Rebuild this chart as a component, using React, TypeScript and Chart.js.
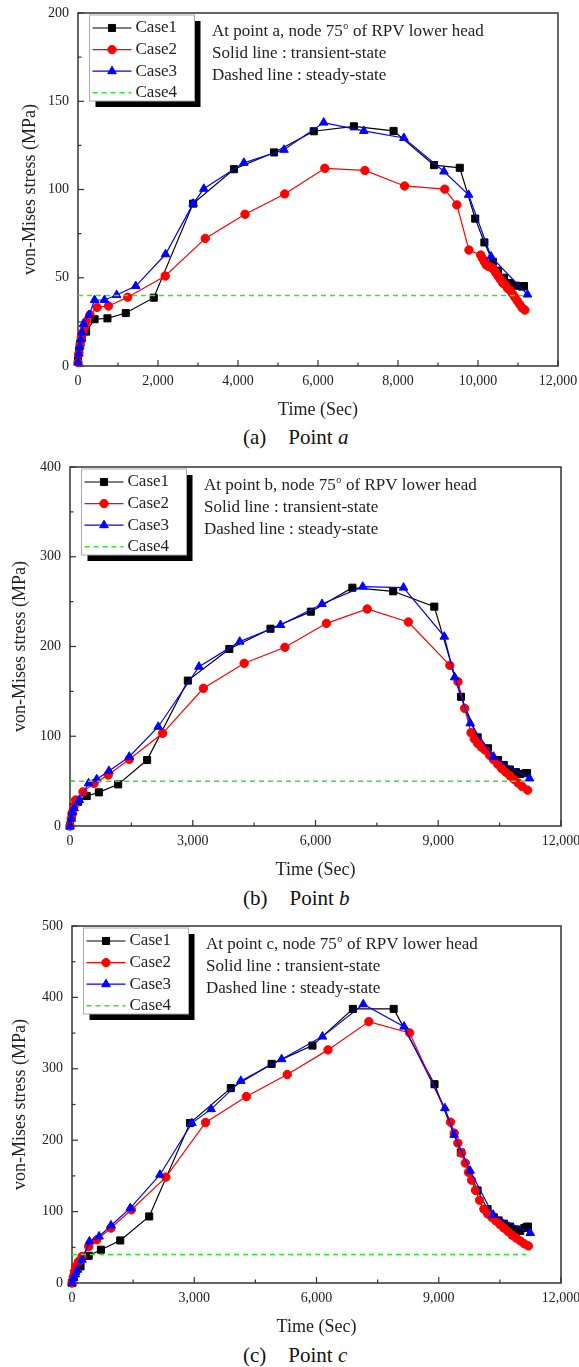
import React, { useEffect, useRef } from "react";
import { Chart, registerables } from "chart.js";
import { drawPoint } from "chart.js/helpers";

Chart.register(...registerables);

const FONT = '"Liberation Serif", "Times New Roman", serif';

// ---------- Data: Point a ----------
const timeA1 = [0, 30, 60, 100, 202, 414, 736, 1195, 1894, 2878, 3899, 4901, 5894, 6896, 7889, 8901, 9544, 9930, 10160, 10372, 10500, 10650, 10800, 10950, 11100, 11150];
const stressA1 = [3, 9, 13, 16, 19.5, 26.5, 27, 30, 38.7, 92, 111.5, 121, 133, 135.8, 133.2, 113.8, 112.3, 83.5, 70, 59, 54, 50, 47, 45.5, 45, 45.3];
const timeA2 = [0, 20, 50, 80, 120, 160, 202, 300, 478, 763, 1241, 2179, 3181, 4175, 5168, 6170, 7172, 8165, 9168, 9471, 9774, 10069, 10110, 10160, 10206, 10260, 10320, 10380, 10440, 10500, 10560, 10620, 10680, 10740, 10800, 10860, 10920, 10980, 11040, 11100, 11172];
const stressA2 = [2, 7, 12, 16, 19, 22, 25, 29, 33.2, 34, 39, 51, 72.3, 86, 97.5, 112, 110.8, 102, 100.2, 91.3, 65.7, 62.9, 61, 59, 57.2, 56.5, 56, 55, 53, 51, 49, 47, 46, 44, 43, 41, 39, 37, 35, 33, 31.7];
const timeA3 = [0, 20, 45, 70, 100, 138, 276, 414, 662, 966, 1444, 2188, 2878, 3145, 4147, 5149, 6142, 7145, 8147, 9149, 9765, 10326, 11236];
const stressA3 = [2, 7, 11, 15, 19, 23.8, 28.9, 37.4, 37.4, 40.2, 45.3, 63.3, 92, 100.4, 115.1, 122.5, 137.9, 133.2, 129.2, 110.2, 97, 62, 40.5];
const timeA4 = [0, 11150];
const stressA4 = [40, 40];

// ---------- Data: Point b ----------
const timeB1 = [0, 40, 91, 200, 408, 706, 1177, 1884, 2880, 3894, 4900, 5887, 6901, 7898, 8903, 9555, 9963, 10216, 10461, 10600, 10750, 10900, 11000, 11140, 11170];
const stressB1 = [0, 12, 21.5, 27, 33.4, 37.5, 46.4, 73.5, 162, 197.2, 219.8, 238.8, 265.5, 261.5, 244.4, 144, 98.8, 86.6, 73.5, 68, 63, 60, 58, 59, 59];
const timeB2 = [0, 30, 60, 100, 136, 317, 589, 933, 1449, 2264, 3260, 4257, 5253, 6267, 7263, 8269, 9283, 9482, 9645, 9800, 9880, 9963, 10050, 10144, 10250, 10350, 10450, 10550, 10650, 10750, 10850, 10950, 11050, 11185];
const stressB2 = [0, 8, 15, 22, 29, 38, 47.5, 56.8, 74.3, 103.3, 153.4, 181.3, 199.1, 225.8, 241.8, 227.3, 179, 160.8, 131.1, 104, 97, 92, 88, 84.7, 79, 74, 69, 64, 60, 56, 52, 48, 44, 40];
const timeB3 = [0, 30, 60, 100, 226, 453, 652, 951, 1449, 2156, 3152, 4148, 5144, 6159, 7155, 8151, 9148, 9401, 9782, 10352, 11231];
const stressB3 = [0, 8, 15, 20, 29, 47.5, 52, 61.3, 77.2, 110.6, 177.5, 205.4, 224, 247.4, 266.7, 265.6, 211, 165.7, 114.4, 77.2, 53];
const timeB4 = [0, 11150];
const stressB4 = [50, 50];

// ---------- Data: Point c ----------
const timeC1 = [0, 40, 91, 209, 410, 710, 1184, 1894, 2895, 3897, 4899, 5900, 6893, 7894, 8896, 9542, 9952, 10198, 10350, 10470, 10600, 10750, 10900, 11000, 11100, 11154, 11190];
const stressC1 = [0, 8, 16, 23.3, 38.2, 46.6, 59.6, 93.2, 224, 272.9, 306.9, 332.5, 383.9, 383.9, 278.4, 182.8, 129.6, 103.5, 92, 87.6, 83, 79, 75, 73, 77, 78.5, 79];
const timeC2 = [0, 30, 60, 91, 160, 246, 410, 610, 956, 1457, 2304, 3278, 4279, 5281, 6282, 7284, 8286, 9287, 9380, 9469, 9560, 9651, 9730, 9806, 9900, 10000, 10107, 10200, 10300, 10400, 10500, 10600, 10700, 10800, 10900, 11000, 11100, 11199];
const stressC2 = [0, 8, 16, 23.3, 30, 37.2, 51.2, 60.6, 77, 102.6, 148.3, 224.8, 261.1, 292, 326.5, 366.1, 350.3, 225.3, 210, 196, 182, 168, 155, 144, 130, 116, 103.5, 97, 92, 87, 82, 77, 72, 67, 63, 59, 55, 52];
const timeC3 = [0, 40, 80, 137, 246, 428, 665, 956, 1430, 2158, 2941, 3414, 4143, 5144, 6146, 7148, 8149, 9151, 9378, 9770, 10334, 11245];
const stressC3 = [0, 7, 12, 18.6, 32.6, 58.2, 65.2, 80.6, 104.9, 151.6, 224, 243.5, 283.1, 313.5, 345.1, 390.4, 359.1, 244.9, 207.5, 157.2, 95.6, 70];
const timeC4 = [0, 11150];
const stressC4 = [40, 40];

// ---------- Labels ----------
const seriesLabels = ["Case1", "Case2", "Case3", "Case4"];
const seriesColors = ["#000000", "#ff0000", "#0000ff", "#2ee82e"];
const seriesMarkers: (string | false)[] = ["rect", "circle", "triangle", false];
const seriesRadius = [5, 4.2, 5, 0];
const annotationLines = ["Solid line : transient-state", "Dashed line : steady-state"];
const xTitle = "Time (Sec)";
const yTitle = "von-Mises stress (MPa)";

type Panel = {
  letter: string;
  times: number[][];
  stresses: number[][];
  top: number;
  height: number;
  padRight: number;
  padTop: number;
  yWidth: number;
  xHeight: number;
  xStep: number;
  xMinor: number;
  yMax: number;
  yStep: number;
  yMinor: number;
  yTitleX: number;
  captionY: number;
};

const panels: Panel[] = [
  { letter: "a", times: [timeA1, timeA2, timeA3, timeA4], stresses: [stressA1, stressA2, stressA3, stressA4],
    top: 0, height: 425, padRight: 21, padTop: 13, yWidth: 78, xHeight: 59, xStep: 2000, xMinor: 1000,
    yMax: 200, yStep: 50, yMinor: 25, yTitleX: 30, captionY: 437 },
  { letter: "b", times: [timeB1, timeB2, timeB3, timeB4], stresses: [stressB1, stressB2, stressB3, stressB4],
    top: 450, height: 435, padRight: 18, padTop: 17, yWidth: 70, xHeight: 59, xStep: 3000, xMinor: 1500,
    yMax: 400, yStep: 100, yMinor: 50, yTitleX: 20, captionY: 898 },
  { letter: "c", times: [timeC1, timeC2, timeC3, timeC4], stresses: [stressC1, stressC2, stressC3, stressC4],
    top: 905, height: 437, padRight: 18, padTop: 21, yWidth: 72, xHeight: 59, xStep: 3000, xMinor: 1500,
    yMax: 500, yStep: 100, yMinor: 50, yTitleX: 20, captionY: 1355 },
];

const decorPlugin = {
  id: "decor",
  beforeDatasetsDraw(chart: any, _a: any, opts: any) {
    const { ctx, chartArea } = chart;
    const { left, right, top, bottom } = chartArea;
    const xs = chart.scales.x;
    const ys = chart.scales.y;
    ctx.save();
    ctx.strokeStyle = "#333";
    ctx.lineWidth = 1.5;
    ctx.strokeRect(left, top, right - left, bottom - top);
    ctx.lineWidth = 1.2;
    for (let v = xs.min; v <= xs.max + 1e-6; v += opts.xMinor) {
      const px = xs.getPixelForValue(v);
      const major = Math.abs(v / opts.xStep - Math.round(v / opts.xStep)) < 1e-6;
      ctx.beginPath();
      ctx.moveTo(px, bottom);
      ctx.lineTo(px, bottom - (major ? 6 : 3.5));
      ctx.stroke();
    }
    for (let v = ys.min; v <= ys.max + 1e-6; v += opts.yMinor) {
      const py = ys.getPixelForValue(v);
      const major = Math.abs(v / opts.yStep - Math.round(v / opts.yStep)) < 1e-6;
      ctx.beginPath();
      ctx.moveTo(left, py);
      ctx.lineTo(left + (major ? 6 : 3.5), py);
      ctx.stroke();
    }
    ctx.restore();
  },
  afterDatasetsDraw(chart: any, _a: any, opts: any) {
    const { ctx, chartArea } = chart;
    const { left, top } = chartArea;
    ctx.save();
    // legend box
    const bx = left + 11.5, by = top + 2, bw = 105, bh = 86;
    ctx.fillStyle = "#000";
    ctx.fillRect(bx + 6, by + 6, bw, bh);
    ctx.fillStyle = "#fff";
    ctx.fillRect(bx, by, bw, bh);
    ctx.strokeStyle = "#aaa";
    ctx.lineWidth = 1;
    ctx.strokeRect(bx, by, bw, bh);
    chart.data.datasets.forEach((ds: any, i: number) => {
      const y = by + 13 + i * 21.6;
      ctx.strokeStyle = ds.borderColor;
      ctx.lineWidth = ds.borderDash ? 1.5 : 1.2;
      ctx.setLineDash(ds.borderDash ? [5, 4] : []);
      ctx.beginPath();
      ctx.moveTo(bx + 3, y);
      ctx.lineTo(bx + 42, y);
      ctx.stroke();
      ctx.setLineDash([]);
      if (ds.pointStyle && ds.pointRadius > 0) {
        ctx.fillStyle = ds.pointBackgroundColor;
        ctx.strokeStyle = ds.borderColor;
        ctx.lineWidth = 1;
        drawPoint(ctx, { pointStyle: ds.pointStyle, radius: ds.pointRadius, rotation: 0, borderWidth: 1 } as any, bx + 22.5, y);
      }
      ctx.fillStyle = "#222";
      ctx.font = `17px ${FONT}`;
      ctx.textBaseline = "middle";
      ctx.textAlign = "left";
      ctx.fillText(ds.label, bx + 46, y);
    });
    // annotation text
    const ax = left + 134;
    const ay = top + 19;
    ctx.fillStyle = "#222";
    ctx.textBaseline = "middle";
    ctx.font = `17px ${FONT}`;
    const first = `At point ${opts.letter}, node 75`;
    ctx.fillText(first, ax, ay);
    let w = ctx.measureText(first).width;
    ctx.font = `10px ${FONT}`;
    ctx.fillText("o", ax + w + 0.5, ay - 6);
    const sw = ctx.measureText("o").width;
    ctx.font = `17px ${FONT}`;
    ctx.fillText(" of RPV lower head", ax + w + sw + 1, ay);
    annotationLines.forEach((t, i) => ctx.fillText(t, ax, ay + (i + 1) * 21.7));
    ctx.restore();
  },
};

function PanelChart({ p }: { p: Panel }) {
  const ref = useRef<HTMLCanvasElement | null>(null);
  useEffect(() => {
    if (!ref.current) return;
    const datasets = seriesLabels.map((label, i) => ({
      label,
      data: p.times[i].map((t, k) => ({ x: t, y: p.stresses[i][k] })),
      borderColor: seriesColors[i],
      backgroundColor: seriesColors[i],
      pointBackgroundColor: seriesColors[i],
      pointBorderColor: seriesColors[i],
      pointStyle: seriesMarkers[i],
      pointRadius: seriesRadius[i],
      pointBorderWidth: 1,
      borderWidth: i === 3 ? 1.5 : 1.2,
      borderDash: i === 3 ? [5, 4] : undefined,
      showLine: true,
      tension: 0,
      clip: false as any,
      order: 3 - i,
    }));
    const tickFont = { family: FONT, size: 14 };
    const chart = new Chart(ref.current, {
      type: "scatter",
      data: { datasets },
      options: {
        animation: false,
        responsive: false,
        devicePixelRatio: 1,
        layout: { padding: { left: 0, right: p.padRight, top: p.padTop, bottom: 0 } },
        plugins: {
          legend: { display: false },
          tooltip: { enabled: false },
          decor: { letter: p.letter, xStep: p.xStep, xMinor: p.xMinor, yStep: p.yStep, yMinor: p.yMinor },
        } as any,
        scales: {
          x: {
            type: "linear",
            min: 0,
            max: 12000,
            grid: { display: false, drawTicks: false },
            border: { display: false },
            ticks: {
              stepSize: p.xStep,
              maxRotation: 0,
              autoSkip: false,
              padding: 7,
              color: "#222",
              font: tickFont,
              callback: (v: any) => Number(v).toLocaleString("en-US"),
            },
            title: { display: true, text: xTitle, color: "#222", font: { family: FONT, size: 18 }, padding: { top: 0, bottom: 4 } },
            afterFit: (s: any) => { s.height = p.xHeight; s.paddingLeft = 0; s.paddingRight = 0; },
          },
          y: {
            type: "linear",
            min: 0,
            max: p.yMax,
            grid: { display: false, drawTicks: false },
            border: { display: false },
            ticks: { stepSize: p.yStep, padding: 9, color: "#222", font: tickFont },
            title: { display: true, text: yTitle, color: "#222", font: { family: FONT, size: 18 }, padding: { top: p.yTitleX - 10.8, bottom: 0 } },
            afterFit: (s: any) => { s.width = p.yWidth; s.paddingTop = 0; s.paddingBottom = 0; },
          },
        },
      },
      plugins: [decorPlugin as any],
    });
    return () => chart.destroy();
  }, [p]);
  return (
    <canvas
      ref={ref}
      width={579}
      height={p.height}
      style={{ position: "absolute", left: 0, top: p.top, width: 579, height: p.height, display: "block" }}
    />
  );
}

export default function App() {
  return (
    <div style={{ position: "absolute", left: 0, top: 0, width: 579, height: 1367, background: "#fff", overflow: "hidden" }}>
      {panels.map((p) => (
        <React.Fragment key={p.letter}>
          <PanelChart p={p} />
          <div
            style={{
              position: "absolute",
              left: 243,
              top: p.captionY - 12,
              height: 24,
              lineHeight: "24px",
              fontFamily: FONT,
              fontSize: 21,
              color: "#111",
              whiteSpace: "pre",
            }}
          >
            ({p.letter})<span style={{ marginLeft: 22 }}>Point </span>
            <i>{p.letter}</i>
          </div>
        </React.Fragment>
      ))}
    </div>
  );
}
